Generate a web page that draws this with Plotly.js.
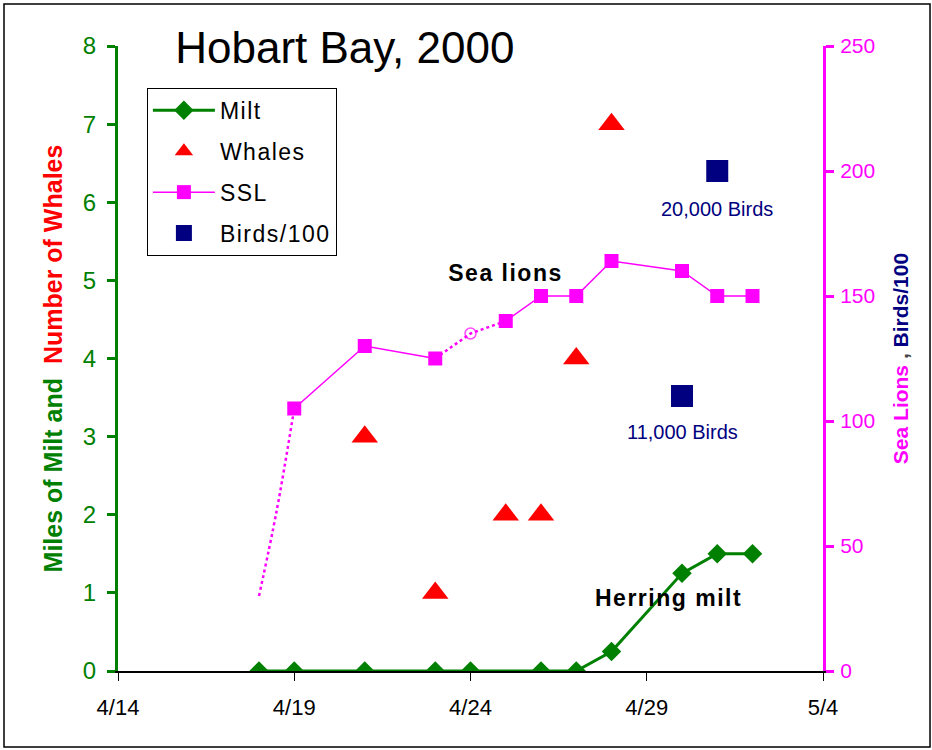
<!DOCTYPE html>
<html>
<head>
<meta charset="utf-8">
<script src="https://cdn.plot.ly/plotly-3.0.1.min.js"></script>
<style>
html,body{margin:0;padding:0;background:#fff;}
#chart{width:932px;height:750px;}
.legendtext{letter-spacing:1.5px;}
#chart g.annotation[data-index="0"] text, #chart g.annotation[data-index="1"] text{letter-spacing:1.5px;}
</style>
</head>
<body>
<div id="chart"></div>
<script>
// ---- data ----
const miltDates = ['2000-04-18','2000-04-19','2000-04-21','2000-04-23','2000-04-24','2000-04-26','2000-04-27','2000-04-28','2000-04-30','2000-05-01','2000-05-02'];
const miltMiles = [0, 0, 0, 0, 0, 0, 0, 0.25, 1.25, 1.5, 1.5];

const whaleDates = ['2000-04-21','2000-04-23','2000-04-25','2000-04-26','2000-04-27','2000-04-28'];
const whaleCounts = [3, 1, 2, 2, 4, 7];

const sslDates = ['2000-04-19','2000-04-21','2000-04-23','2000-04-24','2000-04-25','2000-04-26','2000-04-27','2000-04-28','2000-04-30','2000-05-01','2000-05-02'];
const sslCounts = [105, 130, 125, null, 140, 150, 150, 164, 160, 150, 150];

const sslEarlyDates = ['2000-04-18','2000-04-18 12:00','2000-04-19'];
const sslEarlyCounts = [30, 64, 105];

const sslMidDates = ['2000-04-23','2000-04-24','2000-04-25'];
const sslMidCounts = [125, 135, 140];

const birdDates = ['2000-04-30','2000-05-01'];
const birdsPer100 = [110, 200];
const birdLabels = ['11,000 Birds','20,000 Birds'];

const xTickVals = ['2000-04-14','2000-04-19','2000-04-24','2000-04-29','2000-05-04'];
const xTickText = ['4/14','4/19','4/24','4/29','5/4'];

// ---- styles ----
const GREEN = '#008000', MAG = '#ff00ff', NAVY = '#000080', RED = '#ff0000';
const FONT = 'Liberation Sans, Arial, sans-serif';

const traces = [
  {x: sslEarlyDates, y: sslEarlyCounts, yaxis: 'y2', mode: 'lines', showlegend: false,
   line: {color: MAG, width: 2.5, dash: 'dot', shape: 'spline'}, hoverinfo: 'skip'},
  {x: sslMidDates, y: sslMidCounts, yaxis: 'y2', mode: 'lines+markers', showlegend: false,
   line: {color: MAG, width: 2.5, dash: 'dot'},
   marker: {symbol: 'circle-open-dot', size: [0, 11, 0], color: MAG, line: {width: 1.5, color: MAG}}, hoverinfo: 'skip'},
  {x: miltDates, y: miltMiles, name: 'Milt', legendgroup: 'a', mode: 'lines+markers',
   line: {color: GREEN, width: 3}, marker: {symbol: 'diamond', size: 15, color: GREEN}},
  {x: whaleDates, y: whaleCounts, name: 'Whales', legendgroup: 'b', mode: 'markers',
   marker: {symbol: 'triangle-up', size: 23, color: RED}},
  {x: sslDates, y: sslCounts, name: 'SSL', legendgroup: 'c', yaxis: 'y2', mode: 'lines+markers',
   connectgaps: false, line: {color: MAG, width: 1.5}, marker: {symbol: 'square', size: 14, color: MAG}},
  {x: birdDates, y: birdsPer100, name: 'Birds/100', legendgroup: 'd', yaxis: 'y2', mode: 'markers',
   marker: {symbol: 'square', size: 22, color: NAVY}}
];

const annotations = [
  {x: '2000-04-25', y: 5.1, text: '<b>Sea lions</b>', showarrow: false, font: {family: FONT, size: 23, color: '#000'}},
  {x: '2000-04-29 15:00', y: 0.93, text: '<b>Herring milt</b>', showarrow: false, font: {family: FONT, size: 23, color: '#000'}},
  {x: birdDates[1], y: birdsPer100[1], yref: 'y2', yshift: -38, text: birdLabels[1], showarrow: false, font: {family: FONT, size: 20, color: NAVY}},
  {x: birdDates[0], y: birdsPer100[0], yref: 'y2', yshift: -36, text: birdLabels[0], showarrow: false, font: {family: FONT, size: 20, color: NAVY}}
];

const layout = {
  width: 932, height: 750,
  margin: {l: 118, r: 109, t: 46, b: 79},
  paper_bgcolor: '#fff', plot_bgcolor: '#fff',
  font: {family: FONT},
  title: {text: 'Hobart Bay, 2000', font: {family: FONT, size: 44, color: '#000'},
          x: 0.37, xref: 'container', xanchor: 'center', y: 0.936, yref: 'container', yanchor: 'middle'},
  xaxis: {type: 'date', range: ['2000-04-14','2000-05-04'], tickvals: xTickVals, ticktext: xTickText,
          ticks: 'outside', ticklen: 8, tickcolor: '#000', tickwidth: 1, showline: true, linecolor: '#000', linewidth: 1.5,
          showgrid: false, zeroline: false, ticklabelstandoff: 8,
          tickfont: {family: 'Liberation Sans Narrow, ' + FONT, size: 22, color: '#000'}},
  yaxis: {range: [0, 8], dtick: 1, showgrid: false, zeroline: false, showline: true, linecolor: GREEN, linewidth: 3,
          ticks: 'outside', ticklen: 8, tickwidth: 3, tickcolor: GREEN, ticklabelstandoff: 6,
          tickfont: {family: FONT, size: 24, color: GREEN},
          title: {text: '<b><span style="color:#008000">Miles of Milt and</span>  <span style="color:#ff0000">Number of Whales</span></b>',
                  font: {family: FONT, size: 25}, standoff: 14}},
  yaxis2: {range: [0, 250], dtick: 50, overlaying: 'y', side: 'right', showgrid: false, zeroline: false,
           showline: true, linecolor: MAG, linewidth: 3,
           ticks: 'outside', ticklen: 8, tickwidth: 3, tickcolor: MAG, ticklabelstandoff: 2,
           tickfont: {family: FONT, size: 21, color: MAG},
           title: {text: '<b><span style="color:#ff00ff">Sea Lions</span> , <span style="color:#000080">Birds/100</span></b>',
                   font: {family: FONT, size: 21}, standoff: 20}},
  legend: {x: 0.041, y: 0.933, xanchor: 'left', yanchor: 'top', bgcolor: '#fff', bordercolor: '#000', borderwidth: 1,
           font: {family: FONT, size: 23, color: '#000'}, traceorder: 'grouped', tracegroupgap: 8, itemwidth: 62},
  annotations: annotations,
  shapes: [{type: 'rect', xref: 'paper', yref: 'paper', x0: -0.1617, x1: 1.1518, y0: -0.1216, y1: 1.0672,
            line: {color: '#000', width: 1.5}, fillcolor: 'rgba(0,0,0,0)', layer: 'below'}],
  showlegend: true
};

Plotly.newPlot('chart', traces, layout, {displayModeBar: false, staticPlot: true});
</script>
</body>
</html>
